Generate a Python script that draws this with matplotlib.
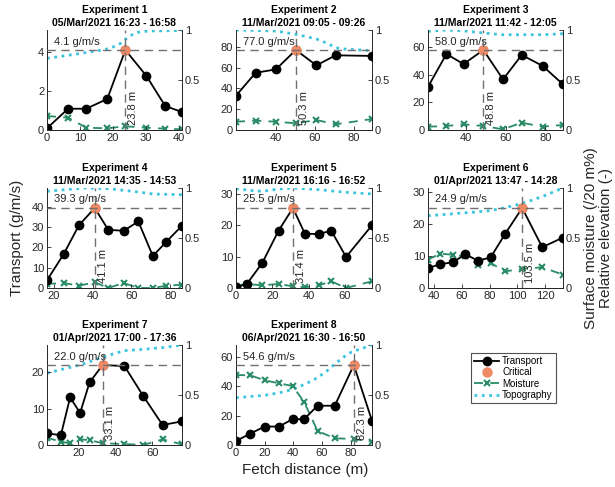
import matplotlib
matplotlib.use('Agg')
import matplotlib.pyplot as plt
from matplotlib.lines import Line2D

plt.rcParams['font.family'] = ['Liberation Sans', 'DejaVu Sans']

experiments = ['Experiment 1', 'Experiment 2', 'Experiment 3', 'Experiment 4',
               'Experiment 5', 'Experiment 6', 'Experiment 7', 'Experiment 8']
dates = ['05/Mar/2021 16:23 - 16:58', '11/Mar/2021 09:05 - 09:26',
         '11/Mar/2021 11:42 - 12:05', '11/Mar/2021 14:35 - 14:53',
         '11/Mar/2021 16:16 - 16:52', '01/Apr/2021 13:47 - 14:28',
         '01/Apr/2021 17:00 - 17:36', '06/Apr/2021 16:30 - 16:50']

fetch = [
    [0, 6.4, 11.9, 18.3, 23.8, 30.2, 35.9, 41.0],
    [19.5, 29.6, 40.0, 50.3, 60.9, 70.8, 89.5],
    [20.9, 30.2, 38.8, 48.8, 58.7, 68.1, 78.6, 88.9],
    [16.5, 25.0, 33.0, 41.1, 48.0, 56.0, 63.5, 71.0, 78.0, 86.0],
    [0, 6.0, 14.5, 23.5, 31.4, 38.0, 45.8, 52.5, 60.7, 75.0],
    [35.5, 44.2, 53.3, 62.5, 71.5, 80.7, 91.3, 103.5, 118.0, 133.0],
    [3.0, 10.5, 15.5, 20.9, 26.0, 33.1, 44.9, 55.0, 65.5, 76.0],
    [0, 10.0, 20.0, 30.0, 39.5, 47.5, 57.0, 69.0, 82.3, 95.0],
]
transport = [
    [0.09, 1.09, 1.09, 1.59, 4.1, 2.77, 1.23, 0.92],
    [33.0, 55.1, 58.3, 77.0, 62.2, 71.9, 71.3],
    [31.3, 55.1, 47.8, 58.0, 36.7, 54.4, 46.5, 33.1],
    [3.8, 16.5, 30.9, 39.3, 28.6, 28.1, 32.7, 15.7, 22.8, 30.6],
    [0.2, 1.3, 8.0, 18.3, 25.5, 17.3, 17.2, 18.3, 9.9, 20.0],
    [6.2, 7.4, 8.0, 10.5, 8.5, 9.5, 16.9, 24.9, 12.7, 15.7],
    [3.2, 2.7, 13.1, 8.8, 17.2, 22.0, 21.7, 13.5, 5.5, 6.5],
    [2.7, 7.8, 12.6, 12.6, 17.6, 17.6, 26.8, 26.8, 54.6, 16.5],
]
moisture = [
    [0.14, 0.123, 0.023, 0.017, 0.037, 0.023, 0.013, 0.007],
    [0.083, 0.093, 0.083, 0.067, 0.10, 0.057, 0.11],
    [0.033, 0.04, 0.057, 0.04, 0.007, 0.073, 0.033, 0.05],
    [0.04, 0.05, 0.023, 0.057, 0.0, 0.05, 0.0, 0.0, 0.023, 0.033],
    [0.023, 0.04, 0.027, 0.04, 0.017, 0.007, 0.027, 0.067, 0.0, 0.067],
    [0.283, 0.343, 0.333, 0.317, 0.233, 0.25, 0.167, 0.19, 0.207, 0.133],
    [0.073, 0.033, 0.017, 0.056, 0.05, 0.017, 0.01, 0.0, 0.056, 0.007],
    [0.70, 0.697, 0.647, 0.617, 0.59, 0.433, 0.14, 0.067, 0.06, 0.033],
]
topo_x = [
    [0, 5, 10, 15, 19.3, 22.4, 25, 27.6, 30.7, 41],
    [19.5, 40, 50.3, 60.9, 66.4, 70.8, 75.1, 89.5],
    [20.9, 30, 38, 49, 58, 68, 79, 88.9],
    [16.5, 25.6, 36.1, 48.4, 60.6, 71.1, 86],
    [0, 7.4, 14.5, 23.6, 31.9, 45.9, 60.7, 75],
    [35.5, 50, 60, 70, 80, 90, 100, 110, 120, 133],
    [3.0, 20.9, 34, 44.9, 55.1, 65.5, 76],
    [0, 20, 30.6, 40, 49.4, 56.9, 63.5, 68.7, 75.3, 80.7, 95],
]
topo_y = [
    [0.717, 0.74, 0.765, 0.79, 0.817, 0.867, 0.94, 0.977, 0.99, 0.995],
    [1.0, 0.99, 0.957, 0.91, 0.867, 0.823, 0.81, 0.793],
    [0.987, 1.0, 0.993, 0.97, 0.953, 0.953, 0.953, 0.963],
    [0.967, 0.983, 1.0, 0.993, 0.967, 0.94, 0.933],
    [0.993, 0.977, 0.967, 0.99, 1.0, 0.983, 0.957, 0.94],
    [0.723, 0.738, 0.75, 0.76, 0.773, 0.80, 0.833, 0.875, 0.925, 1.0],
    [0.719, 0.801, 0.884, 0.944, 0.957, 0.974, 1.0],
    [0.473, 0.497, 0.523, 0.557, 0.617, 0.673, 0.74, 0.807, 0.88, 0.93, 1.0],
]
crit_fetch = [23.8, 50.3, 48.8, 41.1, 31.4, 103.5, 33.1, 82.3]
crit_transport = [4.1, 77.0, 58.0, 39.3, 25.5, 24.9, 22.0, 54.6]
xticks = [[0, 10, 20, 30, 40], [40, 60, 80], [40, 60, 80], [20, 40, 60, 80],
          [0, 20, 40, 60], [40, 60, 80, 100, 120], [20, 40, 60], [0, 20, 40, 60, 80]]
yticks = [[0, 2, 4], [0, 20, 40, 60, 80], [0, 20, 40, 60], [0, 10, 20, 30, 40],
          [0, 10, 20, 30], [0, 10, 20, 30], [0, 10, 20], [0, 20, 40, 60]]

BLACK = 'black'
ORANGE = '#F08A64'
GREEN = '#2A8C66'
CYAN = '#38C4DC'
GRAY = '#707070'
AXC = '#262626'

W, H = 615, 487
fig = plt.figure(figsize=(W / 100, H / 100), dpi=100)
lefts = [47, 236, 428]
widths = [135, 136, 135]
tops = [30, 188, 345]
AH = 100

for i in range(8):
    r, c = divmod(i, 3)
    ax = fig.add_axes([lefts[c] / W, 1 - (tops[r] + AH) / H, widths[c] / W, AH / H])
    ax2 = ax.twinx()
    ax.set_zorder(ax2.get_zorder() + 1)
    ax.patch.set_visible(False)

    ax2.plot(topo_x[i], topo_y[i], ls=':', color=CYAN, lw=2)
    ax2.plot(fetch[i], moisture[i], ls=(0, (5, 4)), color=GREEN, lw=1.3,
             marker='x', ms=4.5, mew=1.5)
    ax2.set_ylim(0, 1)
    ax2.set_yticks([0, 0.5, 1])
    ax2.set_yticklabels(['0', '0.5', '1'])

    ax.plot(fetch[i], transport[i], '-', color=BLACK, lw=1.3, marker='o',
            ms=6, mfc=BLACK, mec=BLACK)
    ax.plot([crit_fetch[i]], [crit_transport[i]], 'o', color=ORANGE, ms=6.5,
            mec=ORANGE)
    ax.axhline(crit_transport[i], color=GRAY, ls=(0, (6, 4)), lw=1, zorder=5)
    ax.axvline(crit_fetch[i], color=GRAY, ls=(0, (6, 4)), lw=1, zorder=5)

    ax.set_xlim(min(fetch[i]), max(fetch[i]))
    ax.set_ylim(0, 1.25 * crit_transport[i])
    ax.set_xticks(xticks[i])
    ax.set_yticks(yticks[i])

    ax.text(0.05, 0.885, f'{crit_transport[i]:.1f} g/m/s', transform=ax.transAxes,
            ha='left', va='center', fontsize=8, color=AXC)
    ax.annotate(f'{crit_fetch[i]:.1f} m', xy=(crit_fetch[i], 0.05),
                xycoords=('data', 'axes fraction'), xytext=(2, 0),
                textcoords='offset points', rotation=90, ha='left', va='bottom',
                fontsize=8, color=AXC)

    ax.set_title(f'{experiments[i]}\n{dates[i]}', fontsize=7.5, fontweight='bold',
                 pad=3, linespacing=1.3, color='black')

    for a in (ax, ax2):
        a.spines['top'].set_visible(False)
        for s in a.spines.values():
            s.set_color(AXC)
            s.set_linewidth(0.7)
        a.tick_params(direction='in', length=3, width=0.6, labelsize=8,
                      colors=AXC, pad=2)
    ax2.spines['left'].set_visible(False)
    ax.spines['right'].set_visible(False)

fig.text(17 / W, 1 - 238 / H, 'Transport (g/m/s)', rotation=90, ha='center',
         va='center', fontsize=11, color=AXC)
fig.text(591 / W, 1 - 238 / H, 'Surface moisture (/20 m%)', rotation=90,
         ha='center', va='center', fontsize=11, color=AXC)
fig.text(606 / W, 1 - 238 / H, 'Relative elevation (-)', rotation=90,
         ha='center', va='center', fontsize=11, color=AXC)
fig.text(305 / W, 1 - 470 / H, 'Fetch distance (m)', ha='center', va='center',
         fontsize=11, color=AXC)

handles = [
    Line2D([], [], color=BLACK, lw=1.3, marker='o', ms=6),
    Line2D([], [], color=ORANGE, ls='none', marker='o', ms=6.5),
    Line2D([], [], color=GREEN, ls=(0, (5, 4)), lw=1.3, marker='x', ms=4.5, mew=1.5),
    Line2D([], [], color=CYAN, ls=':', lw=2),
]
leg = fig.legend(handles, ['Transport', 'Critical', 'Moisture', 'Topography'],
                 loc='upper left', bbox_to_anchor=(471 / W, 1 - 353 / H),
                 fontsize=7, frameon=True, fancybox=False, borderpad=0.3,
                 labelspacing=0.15, handlelength=2.6, handletextpad=0.3,
                 borderaxespad=0)
leg.get_frame().set_edgecolor(AXC)
leg.get_frame().set_linewidth(0.8)

fig.savefig('out.png', dpi=100)
